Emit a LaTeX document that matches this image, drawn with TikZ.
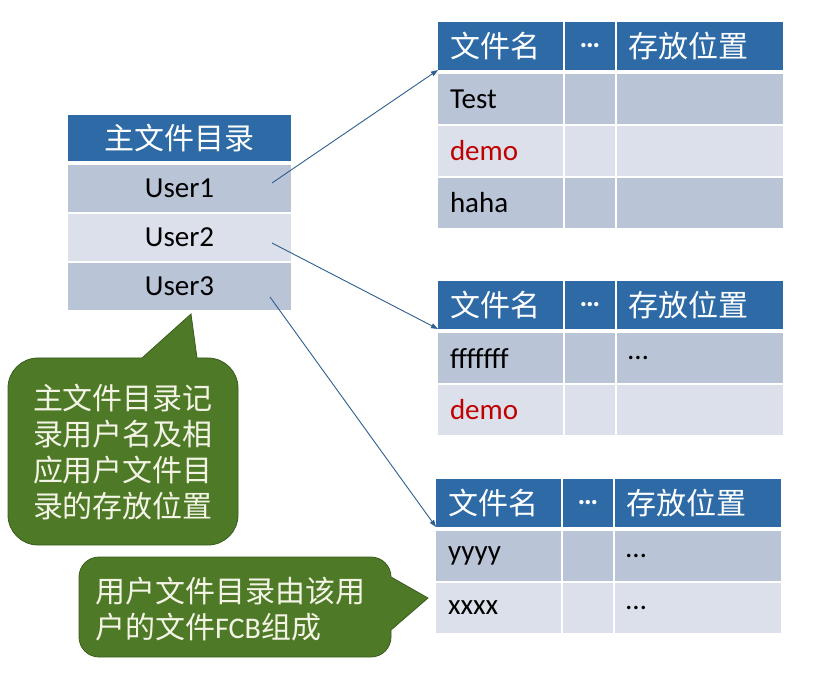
\documentclass[tikz,border=0pt]{standalone}
\usepackage{fontspec}
\setmainfont{Carlito}
\newfontfamily\cjk{Noto Sans CJK SC}
\usepackage{xcolor}
\usepackage{tikz}
\usetikzlibrary{arrows.meta,positioning}

\definecolor{hdblue}{HTML}{2E6BA6}
\definecolor{rowdark}{HTML}{B9C4D6}
\definecolor{rowlight}{HTML}{DCE0EA}
\definecolor{demored}{HTML}{C00000}
\definecolor{arrowblue}{HTML}{2F5F90}
\definecolor{notegreen}{HTML}{4E7A27}
\definecolor{noteedge}{HTML}{3A5C1C}
\definecolor{notetext}{HTML}{F4F4E6}

\newcommand{\hdfont}{\cjk\fontsize{30}{36}\selectfont}
\newcommand{\tabfont}{\fontsize{29}{35}\selectfont}

\begin{document}
\begin{tikzpicture}[
  x=1pt, y=1pt,
  cell/.style={inner sep=0pt, outer sep=0pt, minimum height=50pt, anchor=north west, font=\tabfont},
  hdc/.style={cell, fill=hdblue, text=white, minimum height=48pt, font=\hdfont},
  dk/.style={cell, fill=rowdark},
  lt/.style={cell, fill=rowlight},
  mw/.style={minimum width=223pt, minimum height=47pt, align=center},
  c1/.style={inner xsep=12pt, text width=101pt, align=left},
  c2/.style={text width=50pt, align=center},
  c3/.style={inner xsep=11pt, text width=144pt, align=left},
  dots/.style={font=\tabfont\bfseries},
  note/.style={fill=notegreen, draw=noteedge, line width=0.8pt},
  notetxt/.style={text=notetext, font=\hdfont, align=left, inner sep=0pt},
  arr/.style={-{Triangle[length=7pt,width=5pt]}, draw=arrowblue, line width=0.9pt}
]
\useasboundingbox (0,0) rectangle (831,-679);
\fill[white] (0,0) rectangle (831,-679);

% master directory
\node[hdc, mw, minimum height=46pt] (mh) at (68,-115) {主文件目录};
\node[dk, mw, below=4pt of mh] (u1) {User1};
\node[lt, mw, below=2pt of u1] (u2) {User2};
\node[dk, mw, below=2pt of u2] (u3) {User3};

% user directory 1
\node[hdc, c1] (a11) at (438,-22) {文件名};
\node[hdc, c2, dots, right=2pt of a11] (a12) {…};
\node[hdc, c3, right=2pt of a12] (a13) {存放位置};
\node[dk, c1, below=4pt of a11] (a21) {Test};
\node[dk, c2, below=4pt of a12] (a22) {};
\node[dk, c3, below=4pt of a13] (a23) {};
\node[lt, c1, text=demored, below=2pt of a21] (a31) {demo};
\node[lt, c2, below=2pt of a22] (a32) {};
\node[lt, c3, below=2pt of a23] (a33) {};
\node[dk, c1, below=2pt of a31] (a41) {haha};
\node[dk, c2, below=2pt of a32] (a42) {};
\node[dk, c3, below=2pt of a33] (a43) {};

% user directory 2
\node[hdc, c1] (b11) at (438,-281) {文件名};
\node[hdc, c2, dots, right=2pt of b11] (b12) {…};
\node[hdc, c3, right=2pt of b12] (b13) {存放位置};
\node[dk, c1, below=4pt of b11] (b21) {fffffff};
\node[dk, c2, below=4pt of b12] (b22) {};
\node[dk, c3, below=4pt of b13] (b23) {…};
\node[lt, c1, text=demored, below=2pt of b21] (b31) {demo};
\node[lt, c2, below=2pt of b22] (b32) {};
\node[lt, c3, below=2pt of b23] (b33) {};

% user directory 3
\node[hdc, c1] (c11) at (436,-479) {文件名};
\node[hdc, c2, dots, right=2pt of c11] (c12) {…};
\node[hdc, c3, right=2pt of c12] (c13) {存放位置};
\node[dk, c1, below=4pt of c11] (c21) {yyyy};
\node[dk, c2, below=4pt of c12] (c22) {};
\node[dk, c3, below=4pt of c13] (c23) {…};
\node[lt, c1, below=2pt of c21] (c31) {xxxx};
\node[lt, c2, below=2pt of c22] (c32) {};
\node[lt, c3, below=2pt of c23] (c33) {…};

% links
\coordinate (s1) at (272,-183);
\coordinate (s2) at (272,-243);
\coordinate (s3) at (270,-297);
\draw[arr] (s1) -- (a11.south west);
\draw[arr] (s2) -- (b11.south west);
\draw[arr] (s3) -- (c11.south west);

% notes
\draw[note] (38,-358) -- (142,-358) -- (191,-314) -- (197,-358) -- (208,-358)
  arc[start angle=90, end angle=0, radius=30pt] -- (238,-515)
  arc[start angle=0, end angle=-90, radius=30pt] -- (38,-545)
  arc[start angle=270, end angle=180, radius=30pt] -- (8,-388)
  arc[start angle=180, end angle=90, radius=30pt] -- cycle;
\node[notetxt] (n1) at (123,-452) {主文件目录记\\录用户名及相\\应用户文件目\\录的存放位置};

\draw[note] (99,-557) -- (371,-557)
  arc[start angle=90, end angle=0, radius=20pt] -- (428,-598) -- (391,-630) -- (391,-637)
  arc[start angle=0, end angle=-90, radius=20pt] -- (99,-657)
  arc[start angle=270, end angle=180, radius=20pt] -- (79,-577)
  arc[start angle=180, end angle=90, radius=20pt] -- cycle;
\node[notetxt, anchor=west] (n2) at (95,-609) {用户文件目录由该用\\户的文件{\normalfont FCB}组成};
\end{tikzpicture}
\end{document}
